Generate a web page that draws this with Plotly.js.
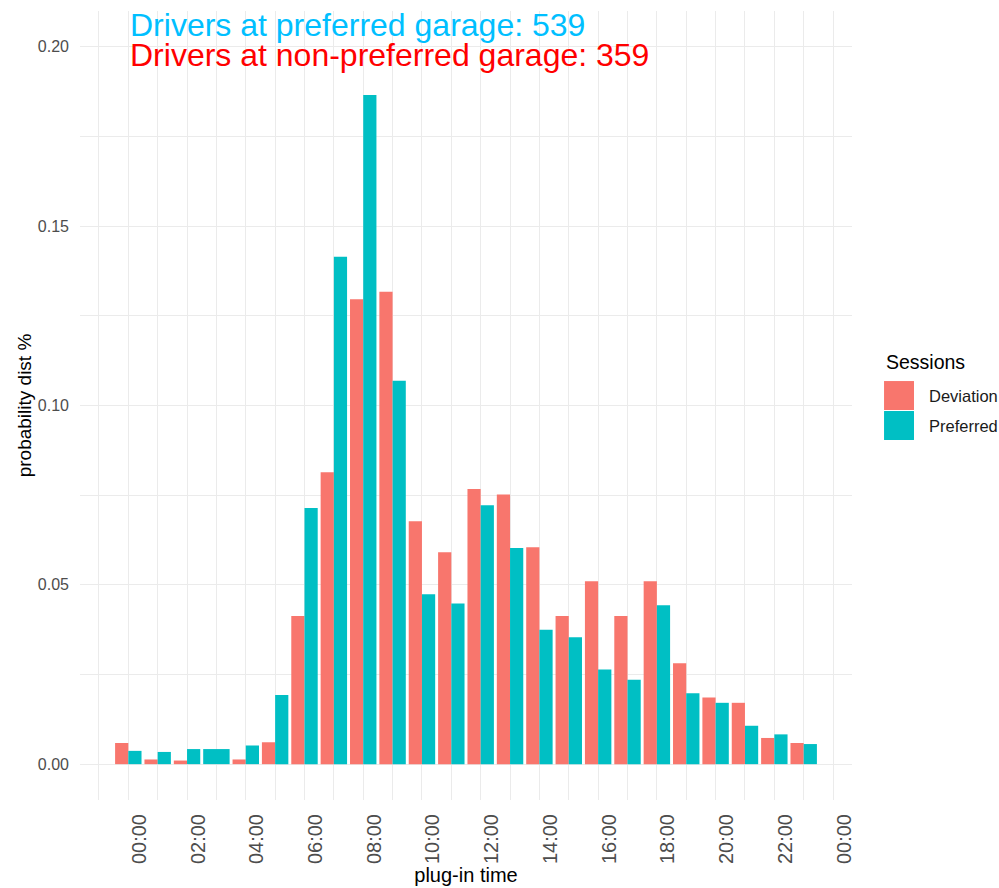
<!DOCTYPE html>
<html>
<head>
<meta charset="utf-8">
<script src="https://cdn.plot.ly/plotly-3.0.1.min.js"></script>
<style>
  html, body { margin: 0; padding: 0; background: #ffffff; }
  #chart { width: 999px; height: 888px; }
</style>
</head>
<body>
<div id="chart"></div>
<script>
// ---- data ----
const hours = [0,1,2,3,4,5,6,7,8,9,10,11,12,13,14,15,16,17,18,19,20,21,22,23];
const deviation = [0.0059, 0.0013, 0.0010, null, 0.0013, 0.0061, 0.0413, 0.0814, 0.1296, 0.1317,
                   0.0677, 0.0591, 0.0767, 0.0752, 0.0605, 0.0413, 0.0510, 0.0413, 0.0510, 0.0281,
                   0.0186, 0.0171, 0.0073, 0.0059];
const preferred = [0.0037, 0.0034, 0.0042, 0.0042, 0.0052, 0.0193, 0.0714, 0.1415, 0.1866, 0.1069,
                   0.0474, 0.0448, 0.0722, 0.0603, 0.0375, 0.0354, 0.0264, 0.0235, 0.0443, 0.0198,
                   0.0171, 0.0107, 0.0083, 0.0056];
const tickHours = [0,2,4,6,8,10,12,14,16,18,20,22,24];
const tickLabels = ["00:00","02:00","04:00","06:00","08:00","10:00","12:00","14:00","16:00","18:00","20:00","22:00","00:00"];
const minorHours = [-1,1,3,5,7,9,11,13,15,17,19,21,23];
const yTickVals = [0, 0.05, 0.10, 0.15, 0.20];
const yTickLabels = ['0.00', '0.05', '0.10', '0.15', '0.20'];
const yMinorVals = [0.025, 0.075, 0.125, 0.175];
const seriesNames = ["Deviation", "Preferred"];
const seriesColors = ['#F8766D', '#00BFC4'];
const legendTitle = 'Sessions';
const preferredCount = 539;
const nonPreferredCount = 359;

// ---- dodge like ggplot (a lone bar takes the full slot) ----
const slot = 0.9, half = slot / 2;
const prefOffset = hours.map((h, i) => deviation[i] === null ? -half : 0);
const prefWidth = hours.map((h, i) => deviation[i] === null ? slot : half);

const traces = [
  {
    type: 'bar', name: seriesNames[0], x: hours, y: deviation,
    offset: -half, width: half, showlegend: false,
    marker: { color: seriesColors[0], line: { width: 0 } }, hoverinfo: 'x+y'
  },
  {
    type: 'bar', name: seriesNames[1], x: hours, y: preferred,
    offset: prefOffset, width: prefWidth, showlegend: false,
    marker: { color: seriesColors[1], line: { width: 0 } }, hoverinfo: 'x+y'
  }
];

// ---- ggplot-style legend (keys + labels) in the right margin ----
const legX0 = 1.0415, legX1 = 1.0803, legTextX = 1.0972;
const keyTop = 0.5310, keyH = 0.0367;
const shapes = [];
const annotations = [
  {
    x: 0, y: 0.2062, xref: 'x', yref: 'y', xanchor: 'left', yanchor: 'middle',
    text: 'Drivers at preferred garage: ' + preferredCount, showarrow: false,
    font: { size: 32, color: '#00BFFF' }
  },
  {
    x: 0, y: 0.1976, xref: 'x', yref: 'y', xanchor: 'left', yanchor: 'middle',
    text: 'Drivers at non-preferred garage: ' + nonPreferredCount, showarrow: false,
    font: { size: 32, color: '#FF0000' }
  },
  {
    x: legX0, y: 0.5551, xref: 'paper', yref: 'paper', xanchor: 'left', yanchor: 'middle',
    text: legendTitle, showarrow: false, font: { size: 19.5, color: '#000000' }
  }
];
seriesNames.forEach(function (name, i) {
  const top = keyTop - i * (keyH + 0.0013);
  shapes.push({
    type: 'rect', xref: 'paper', yref: 'paper',
    x0: legX0, x1: legX1, y0: top - keyH, y1: top,
    fillcolor: seriesColors[i], line: { width: 0 }
  });
  annotations.push({
    x: legTextX, y: top - keyH / 2, xref: 'paper', yref: 'paper', xanchor: 'left', yanchor: 'middle',
    text: name, showarrow: false, font: { size: 16.5, color: '#1a1a1a' }
  });
});

const gridCol = '#EBEBEB';
const layout = {
  width: 999, height: 888,
  margin: { l: 80, r: 147, t: 11, b: 88, autoexpand: false },
  paper_bgcolor: '#ffffff', plot_bgcolor: '#ffffff',
  barmode: 'overlay',
  font: { family: 'Liberation Sans, Arial, sans-serif', color: '#000000' },
  showlegend: false,
  xaxis: {
    range: [-1.645, 24.645],
    tickmode: 'array', tickvals: tickHours, ticktext: tickLabels,
    tickangle: -90,
    tickfont: { size: 20, color: '#4D4D4D' },
    ticklabelshift: 11,
    ticklabelstandoff: 9,
    showgrid: true, gridcolor: gridCol, gridwidth: 1,
    minor: { tickmode: 'array', tickvals: minorHours, showgrid: true, gridcolor: gridCol, gridwidth: 1, ticks: '' },
    zeroline: false, showline: false, ticks: '',
    title: { text: 'plug-in time', font: { size: 20, color: '#000000' }, standoff: 4 }
  },
  yaxis: {
    range: [-0.01, 0.21],
    tickmode: 'array', tickvals: yTickVals, ticktext: yTickLabels,
    tickfont: { size: 16, color: '#4D4D4D' },
    showgrid: true, gridcolor: gridCol, gridwidth: 1,
    minor: { tickmode: 'array', tickvals: yMinorVals, showgrid: true, gridcolor: gridCol, gridwidth: 1, ticks: '' },
    zeroline: false, showline: false, ticks: '',
    ticklabelstandoff: 10,
    title: { text: 'probability dist %', font: { size: 19, color: '#000000' }, standoff: 1 }
  },
  shapes: shapes,
  annotations: annotations
};

Plotly.newPlot('chart', traces, layout, { staticPlot: true, displayModeBar: false });
</script>
</body>
</html>
